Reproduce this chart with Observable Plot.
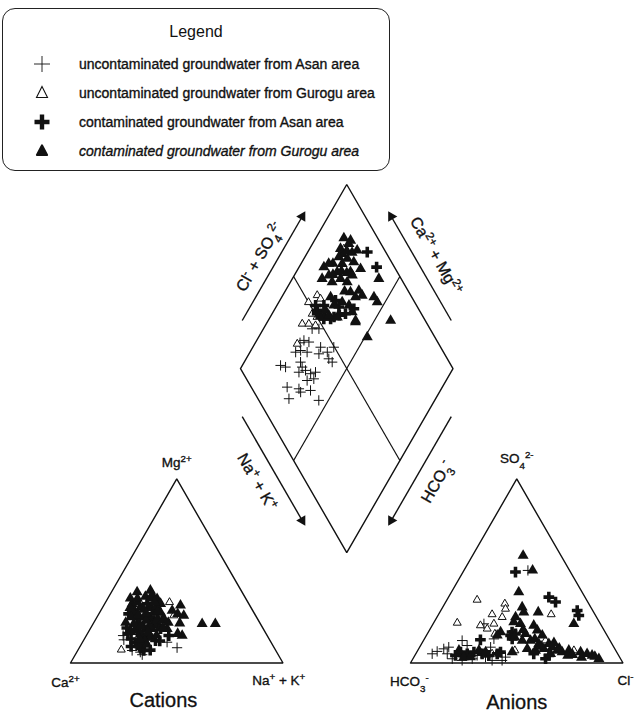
<!DOCTYPE html>
<html>
<head>
<meta charset="utf-8">
<script src="https://cdn.jsdelivr.net/npm/d3@7"></script>
<script src="https://cdn.jsdelivr.net/npm/@observablehq/plot@0.6"></script>
<style>
  body { margin: 0; background: #fff; font-family: "Liberation Sans", Arial, sans-serif; color: #111; }
  #wrap { position: relative; width: 636px; height: 713px; overflow: hidden; }
  #chart { position: absolute; left: 0; top: 0; }
  #legend { position: absolute; left: 2px; top: 8px; width: 388px; height: 163px; box-sizing: border-box;
            border: 1.3px solid #222; border-radius: 13px; background: #fff; z-index: 2; }
  #legend .title { position: absolute; left: 0; right: 0; top: 14px; text-align: center; font-size: 16px; }
  #legend .row { position: absolute; left: 0; height: 20px; line-height: 20px; font-size: 14px; white-space: nowrap;
                 -webkit-text-stroke: 0.35px #111; }
  #legend .row svg { position: absolute; left: 27px; top: 0; }
  #legend .row span { position: absolute; left: 76px; }
  #legend .row.it span { font-style: italic; }
</style>
</head>
<body>
<div id="wrap">
  <div id="legend"></div>
  <div id="chart"></div>
</div>
<script>
// ---------- series (percent of meq/L) ----------
const groupKeys = ["ua", "ug", "ca", "cg"];
const groupLabels = [
  "uncontaminated groundwater from Asan area",
  "uncontaminated groundwater from Gurogu area",
  "contaminated groundwater from Asan area",
  "contaminated groundwater from Gurogu area"
];

// Cations: [Mg2+ %, Na+ + K+ %]
const cationUA = [[14.9,17.3],[12.6,18.8],[6.8,25.6],[5.9,29.9],[8.3,46.0],[11.3,39.8],[16.7,19.8],[4.5,31.5]];
const cationUG = [[33.0,30.1],[7.2,20.3],[26.7,29.0],[25.8,35.7]];
const cationCA = [[26.7,14.0],[32.2,20.0],[24.0,19.4],[23.1,27.6],[19.5,24.7],[18.6,33.1],[14.0,26.7],[10.4,27.7],
  [14.9,38.8],[6.8,31.1],[12.2,33.9],[17,23],[9,24],[20,31],[28,16],[12,36],[8,29],
  [16,19],[21,22],[25,25],[13,22],[18,27],[11,25],[22,29],[7,34],[15,29],[19,17],[9,28]];
const cationCG = [[21.3,51.3],[21.3,57.5],[31.3,36.1],[25.8,40.4],[21.6,40.6],[14.9,45.1],[15.9,42.5],[28.5,33.6],
  [26.7,37.1],[38.5,12.1],[39.4,17.9],[34.9,23.3],[32.2,26.3],[32.2,12.9],[30.3,17.7],[27.6,25.4],[24.9,22.8],
  [23.1,31.6],[18.6,21.3],[18.6,29.1],[18.6,36.2],[14.0,30.6],[21.3,19.1],[36.1,17.2],[27.4,28.7],[35.1,10.6],
  [29,20],[25,16],[20,27],[16,25],[12,29],[22,35],[30,23],[35,20],
  [33,15],[30,13],[26,19],[23,24],[20,23],[17,28],[15,33],[27,22],[31,25],[24,29],[19,34],[22,15],[13,26],
  [10,31],[35,14],[37,20],[28,27],[24,32],[17,20],[33,23]];

// Anions: [SO4 2- %, Cl- %]
const anionUA = [[50.3,30.1],[21.3,23.9],[12.2,18.2],[9.5,21.9],[13.1,32.7],[8.6,33.4],[5.0,7.7],[6.3,9.4],[7.7,11.8],
  [5.0,14.8],[2.3,18.5],[1.4,23.6],[2.3,27.9],[4.1,29.3],[3.2,33.7],[1.4,37.7],[1.4,42.4],[3.2,43.1],[8.6,13.7]];
const anionUG = [[34.3,14.2],[21.8,11.1],[32.2,28.3],[29.4,30.0],[24.9,30.7],[26.4,53.0],[26.4,25.2],[20.4,22.7],
  [18.6,26.8],[21.3,28.6],[15.8,31.8],[12.2,57.4],[6.8,73.5],[4.1,23.8],[5.0,35.9],[6.8,45.7]];
const anionCA = [[49.4,24.7],[35.8,47.2],[33.1,51.7],[28.5,64.2],[25.8,66.3],[16.8,39.4],[15.0,39.6],[15.8,41.5],
  [13.1,41.3],[12.6,26.6],[5.0,55.5],[2.3,62.4],[4.1,63.1],[4.1,19.1],[5.9,20.6],[5.0,24.2],[5.9,26.9],[5.0,31.2],
  [4.1,34.8],[5.0,38.3],[5.9,39.4]];
const anionCG = [[38.5,31.7],[30.3,37.4],[27.6,39.5],[27.6,46.3],[21.3,66.2],[22.2,37.5],[24.9,37.0],[21.3,41.1],
  [16.8,34.0],[15.0,33.3],[20.4,47.8],[17.7,50.8],[15.0,54.5],[10.4,59.9],[8.6,62.4],[6.8,65.6],[5.9,68.4],[6.8,71.1],
  [5.9,77.1],[5.0,80.6],[4.1,83.4],[2.3,87.5],[12.2,50.4],[10.4,55.2],[6.8,55.4],[7.7,51.1],[7.7,58.9],[5.0,63.4],
  [5.9,44.9],[6.8,19.4],[3.2,23.5],[3.2,26.6],[6.8,28.8],[5.9,32.4],[15.8,46.2],[12.2,46.5],[58.4,23.8],[50.3,32.3],
  [13,52],[9,57],[4,72],[3,79],[8,66],[11,62],[18,44],[14,42],[3.5,85],[4.5,74]];

// Diamond: [Na+ + K+ %, Cl- + SO4 2- %]
const diamondUA = [[22.2,37.5],[25.0,39.4],[21,35],[21.5,30.4],[23.4,33.2],[26.9,35.8],[31.9,43.5],[32.9,40.9],
  [36.4,45.3],[38.1,49.7],[38.9,44.2],[41.4,44.9],[18.0,19.7],[20.8,21.6],[26.5,30.0],[28.6,29.4],[28.5,26.5],
  [31.1,30.1],[34.4,31.6],[37.3,31.7],[36.3,34.3],[34.6,28.1],[27.0,16.9],[33.0,22.0],[34.7,21.9],[38.9,27.0],
  [31.0,14.6],[45.5,28.2],[22.9,44.5],[26.1,47.7]];
const diamondUG = [[16.2,56.0],[18.7,56.6],[18.9,48.6],[16.9,41.2],[20.0,44.3],[23.6,47.0],[20.0,33.4],[16.1,81.2],
  [14,50],[22,50]];
const diamondCA = [[28.0,91.3],[36.5,91.6],[20.3,51.9],[22.1,56.4],[29.6,63.0],[34.5,64.3],[37.1,69.6],[26.2,63.2],
  [28.9,55.9],[23.2,52.1],[18.2,52.5],[21.2,51.0],[25,54],[25.7,52.7],[32,61],[30,58]];
const diamondCG = [[13.2,84.1],[17.0,86.6],[17.1,84.9],[22.8,87.0],[14.5,79.6],[16.6,79.0],[16.0,76.6],[20.4,80.1],
  [19.4,76.3],[24.4,82.2],[29.4,83.6],[25.5,78.0],[19.3,71.7],[11.7,66.8],[16.3,66.9],[14.0,62.8],[19.6,66.6],
  [22.7,71.5],[26.7,73.7],[27.3,77.9],[34.5,76.9],[37.4,77.1],[34.7,73.5],[31.0,72.5],[43.4,82.2],[46.3,82.4],
  [40.7,89.5],[57.6,83.7],[51.1,68.2],[41.5,66.7],[29.8,65.9],[23.0,61.8],[26.8,61.1],[24.2,55.8],[33.9,68.2],
  [37.2,67.9],[31.6,59.5],[27.1,56.0],[41.1,67.2],[18,82],[21,84],[15,72],[21,74],[24,76],[18,69],[28,70],[13,70]];

// ---------- Piper geometry (one unit = 1 % of a triangle side) ----------
const SIDE = 100, GAP = 60, H = Math.sqrt(3) / 2;
const cat = (mg, nk) => [nk + mg / 2, mg * H];
const an = (so4, cl) => [SIDE + GAP + cl + so4 / 2, so4 * H];
const B0 = [SIDE + GAP / 2, (GAP / 2) * Math.sqrt(3)];
const L0 = [B0[0] - SIDE / 2, B0[1] + SIDE * H];
const dia = (nk, cs) => [L0[0] + (cs + nk) / 2, L0[1] + (cs - nk) * H];

const pts = [];
function add(arr, f, group) { for (const [a, b] of arr) { const [x, y] = f(a, b); pts.push({x, y, group}); } }
const sets = {
  ua: [[cationUA, cat], [anionUA, an], [diamondUA, dia]],
  ug: [[cationUG, cat], [anionUG, an], [diamondUG, dia]],
  ca: [[cationCA, cat], [anionCA, an], [diamondCA, dia]],
  cg: [[cationCG, cat], [anionCG, an], [diamondCG, dia]]
};
for (const g of groupKeys) for (const [arr, f] of sets[g]) add(arr, f, g);

const style = {
  ua: {symbol: "plus", r: 3.4, stroke: "#111", strokeWidth: 1, fill: "none"},
  ug: {symbol: "triangle2", r: 3.8, stroke: "#111", strokeWidth: 1, fill: "white"},
  ca: {symbol: "cross", r: 4.5, fill: "#111", stroke: "none"},
  cg: {symbol: "triangle", r: 4.1, fill: "#111", stroke: "none"}
};

// frame polygons
const polys = [
  [cat(0, 0), cat(0, 100), cat(100, 0), cat(0, 0)],
  [an(0, 0), an(0, 100), an(100, 0), an(0, 0)],
  [dia(0, 0), dia(0, 100), dia(100, 100), dia(100, 0), dia(0, 0)]
];
const frame = polys.flatMap((p, i) => p.map(([x, y]) => ({x, y, id: i})));
const inner = [[dia(0, 50), dia(100, 50)], [dia(50, 0), dia(50, 100)]]
  .map(([a, b]) => ({x1: a[0], y1: a[1], x2: b[0], y2: b[1]}));

// side arrows of the diamond
const C = dia(50, 50);
function side(P, Q) {
  const d = [Q[0] - P[0], Q[1] - P[1]], len = Math.hypot(d[0], d[1]);
  const u = [d[0] / len, d[1] / len];
  let n = [-u[1], u[0]];
  const mid = [(P[0] + Q[0]) / 2, (P[1] + Q[1]) / 2];
  if ((mid[0] - C[0]) * n[0] + (mid[1] - C[1]) * n[1] < 0) n = [-n[0], -n[1]];
  return {P, d, u, n, mid};
}
const L = dia(0, 0), T = dia(0, 100), R = dia(100, 100), B = dia(100, 0);
const sideDefs = [
  {s: side(L, T), label: "Cl⁻ + SO₄²⁻", rotate: -60, off: 18.5},
  {s: side(R, T), label: "Ca²⁺ + Mg²⁺", rotate: 60, off: 19.5},
  {s: side(L, B), label: "Na⁺ + K⁺", rotate: 60, off: 20},
  {s: side(R, B), label: "HCO₃⁻", rotate: -60, off: 20}
];
const AOFF = 10.6, T0 = 0.2, T1 = 0.765;
const arrows = sideDefs.map(({s}) => ({
  x1: s.P[0] + s.d[0] * T0 + s.n[0] * AOFF, y1: s.P[1] + s.d[1] * T0 + s.n[1] * AOFF,
  x2: s.P[0] + s.d[0] * T1 + s.n[0] * AOFF, y2: s.P[1] + s.d[1] * T1 + s.n[1] * AOFF,
  rot: Math.atan2(s.u[0], s.u[1]) * 180 / Math.PI
}));
const sideLabels = sideDefs.map(({s, label, rotate, off}) => ({
  x: s.mid[0] + s.n[0] * off, y: s.mid[1] + s.n[1] * off, label, rotate
}));

// corner labels
const cornerLabels = [
  {p: cat(100, 0), dx: 0, dy: 7.8, t: "Mg²⁺"},
  {p: cat(0, 0), dx: -2.4, dy: -9.2, t: "Ca²⁺"},
  {p: cat(0, 100), dx: -2, dy: -8.4, t: "Na⁺ + K⁺"},
  {p: an(100, 0), dx: 0, dy: 9.6, t: "SO₄²⁻"},
  {p: an(0, 0), dx: -0.5, dy: -9, t: "HCO₃⁻"},
  {p: an(0, 100), dx: 1.2, dy: -8.2, t: "Cl⁻"}
].map(d => ({x: d.p[0] + d.dx, y: d.p[1] + d.dy, t: d.t}));
const titles = [
  {x: cat(0, 43.7)[0], y: -17.8, t: "Cations"},
  {x: an(0, 50)[0], y: -18.6, t: "Anions"}
];

const PX = 2.125, OX = 70, OY = 662.5;
const chart = Plot.plot({
  width: 636, height: 713, margin: 0,
  x: {domain: [-OX / PX, (636 - OX) / PX], axis: null},
  y: {domain: [-(713 - OY) / PX, OY / PX], axis: null},
  style: {fontFamily: "'Liberation Sans', Arial, sans-serif", color: "#111", background: "white"},
  marks: [
    Plot.line(frame, {x: "x", y: "y", z: "id", stroke: "#111", strokeWidth: 1.4, strokeLinejoin: "miter"}),
    Plot.link(inner, {x1: "x1", y1: "y1", x2: "x2", y2: "y2", stroke: "#111", strokeWidth: 1.2}),
    Plot.link(arrows, {x1: "x1", y1: "y1", x2: "x2", y2: "y2", stroke: "#111", strokeWidth: 1.4}),
    Plot.dot(arrows, {x: "x2", y: "y2", rotate: "rot", symbol: "triangle", r: 3.9, fill: "#111", stroke: "none"}),
    Plot.text(sideLabels, {x: "x", y: "y", text: "label", rotate: "rotate", fontSize: 16, fill: "#111",
      stroke: "#111", strokeWidth: 0.35}),
    Plot.text(cornerLabels, {x: "x", y: "y", text: "t", fontSize: 13.5, fill: "#111", stroke: "#111", strokeWidth: 0.35}),
    Plot.text(titles, {x: "x", y: "y", text: "t", fontSize: 20, fill: "#111", stroke: "#111", strokeWidth: 0.3}),
    ...groupKeys.map(g => Plot.dot(pts.filter(d => d.group === g), {x: "x", y: "y", ...style[g]}))
  ]
});
document.getElementById("chart").appendChild(chart);

// typeset super/subscripts as real text in tspans
const supMap = {"²": "2", "⁺": "+", "⁻": "-"}, subMap = {"₄": "4", "₃": "3"};
d3.select(chart).selectAll("text").each(function () {
  const s = this.textContent;
  if (!/[²⁺⁻₄₃]/.test(s)) return;
  const runs = [];
  for (const ch of s) {
    const kind = supMap[ch] ? "sup" : subMap[ch] ? "sub" : "n";
    const c = supMap[ch] || subMap[ch] || ch;
    if (runs.length && runs[runs.length - 1].kind === kind) runs[runs.length - 1].t += c;
    else runs.push({kind, t: c});
  }
  const el = d3.select(this);
  el.text(null);
  for (const r of runs) {
    const ts = el.append("tspan").text(r.t);
    if (r.kind !== "n") ts.attr("baseline-shift", r.kind === "sup" ? "super" : "sub").attr("font-size", "72%");
  }
});

// ---------- legend ----------
const legendSvgs = {
  ua: '<svg width="24" height="20" viewBox="-12 -10 24 20"><path d="M-8,0H8M0,-8V8" stroke="#111" stroke-width="0.9"/></svg>',
  ug: '<svg width="24" height="20" viewBox="-12 -10 24 20"><path d="M0,-6.5L5.5,4.5L-5.5,4.5Z" fill="white" stroke="#111" stroke-width="1.1"/></svg>',
  ca: '<svg width="24" height="20" viewBox="-12 -10 24 20"><path d="M-2.2,-7.5H2.2V-2.2H7.5V2.2H2.2V7.5H-2.2V2.2H-7.5V-2.2H-2.2Z" fill="#111"/></svg>',
  cg: '<svg width="24" height="20" viewBox="-12 -10 24 20"><path d="M0,-5.5L5,4L-5,4Z" fill="#111" stroke="#111" stroke-width="2.2" stroke-linejoin="round"/></svg>'
};
const rowTops = [53, 82, 111, 140];
const leg = document.getElementById("legend");
leg.innerHTML = '<div class="title">Legend</div>' + groupKeys.map((g, i) =>
  `<div class="row${i === 3 ? " it" : ""}" style="top:${rowTops[i] - 8}px">${legendSvgs[g]}<span>${groupLabels[i]}</span></div>`
).join("");
</script>
</body>
</html>
